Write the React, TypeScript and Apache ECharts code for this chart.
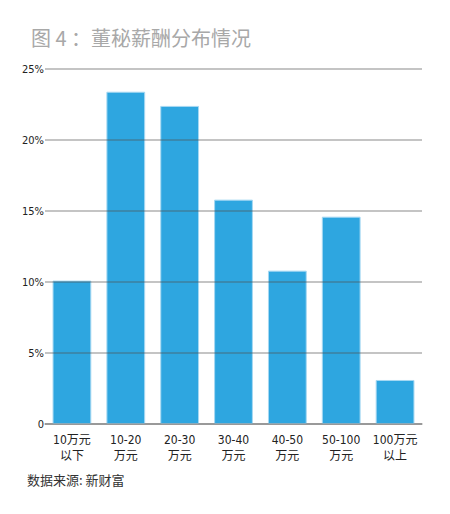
import React, { useEffect, useRef } from "react";
import * as echarts from "echarts";

// salary bands (万元) and share of board secretaries (%)
const categories = ["10万元\n以下", "10-20\n万元", "20-30\n万元", "30-40\n万元", "40-50\n万元", "50-100\n万元", "100万元\n以上"];
const shares = [10.1, 23.4, 22.4, 15.8, 10.8, 14.6, 3.1];
const yTicks = [0, 5, 10, 15, 20, 25];

const narrow = "'Liberation Sans Narrow', 'DejaVu Sans Condensed', 'Noto Sans CJK SC', sans-serif";
const cjk = "'Noto Sans CJK SC', sans-serif";

const App: React.FC = () => {
  const chartRef = useRef<HTMLDivElement>(null);

  useEffect(() => {
    if (!chartRef.current) return;
    const chart = echarts.init(chartRef.current, undefined, { renderer: "svg" });

    chart.setOption({
      animation: false,
      backgroundColor: "#ffffff",
      title: {
        text: "图 4 ：董秘薪酬分布情况",
        left: 26,
        top: 22,
        textStyle: { color: "#a8a8a8", fontSize: 20, fontWeight: "normal", fontFamily: cjk },
      },
      graphic: [
        {
          type: "text",
          left: 27,
          top: 473,
          style: { text: "数据来源: 新财富", fill: "#333333", fontSize: 13, fontFamily: cjk },
        },
      ],
      grid: { left: 45, right: 28, top: 69, bottom: 90 },
      xAxis: {
        type: "category",
        data: categories,
        axisLine: { lineStyle: { color: "#aaaaaa", width: 1.5 } },
        axisTick: { inside: true, length: 8, lineStyle: { color: "#888888" } },
        axisLabel: {
          color: "#222222",
          fontSize: 12,
          lineHeight: 16,
          margin: 8,
          fontFamily: narrow,
          interval: 0,
        },
      },
      yAxis: {
        type: "value",
        min: yTicks[0],
        max: yTicks[yTicks.length - 1],
        interval: 5,
        z: 3,
        axisLine: { show: false },
        axisTick: { show: false },
        axisLabel: {
          margin: 1,
          color: "#222222",
          fontSize: 11,
          fontFamily: narrow,
          formatter: (v: number) => (v === 0 ? "0" : v + "%"),
        },
        splitLine: { lineStyle: { color: "rgba(80,80,80,0.45)", width: 1.5 } },
      },
      series: [
        {
          type: "bar",
          data: shares,
          barWidth: "72%",
          z: 2,
          itemStyle: { color: "#2ea6e0", borderColor: "#a6d8f2", borderWidth: 1 },
        },
      ],
    });

    return () => chart.dispose();
  }, []);

  return (
    <div
      ref={chartRef}
      style={{ position: "absolute", left: 0, top: 0, width: "450px", height: "514px" }}
    />
  );
};

export default App;
